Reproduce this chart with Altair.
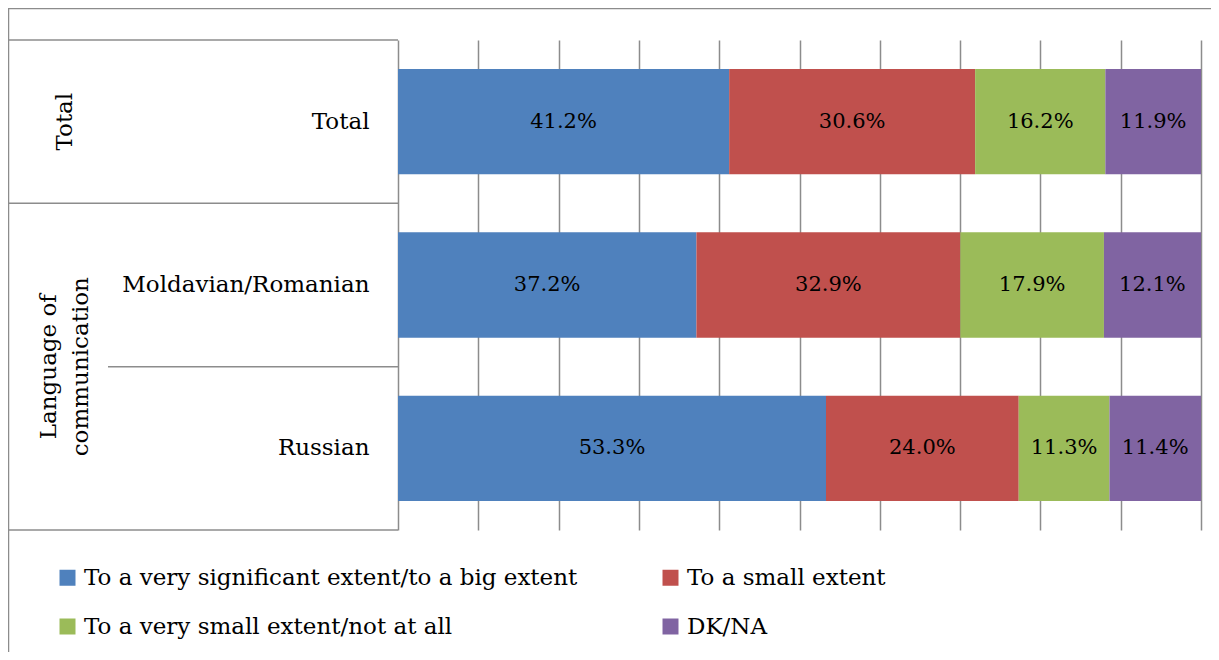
import altair as alt
import pandas as pd

categories = ["Total", "Moldavian/Romanian", "Russian"]
series = [
    "To a very significant extent/to a big extent",
    "To a small extent",
    "To a very small extent/not at all",
    "DK/NA",
]
s_big = [41.2, 37.2, 53.3]
s_small = [30.6, 32.9, 24.0]
s_vsmall = [16.2, 17.9, 11.3]
s_dkna = [11.9, 12.1, 11.4]
colors = ["#4F81BD", "#C0504D", "#9BBB59", "#8064A2"]

groups = ["Total", "Language of\ncommunication"]

rows = []
for si, (name, vals) in enumerate(zip(series, [s_big, s_small, s_vsmall, s_dkna])):
    for c, v in zip(categories, vals):
        rows.append({"category": c, "series": name, "order": si, "value": v})
df = pd.DataFrame(rows)

FONT = "DejaVu Serif"
GRAY = "#8c8c8c"
W, H = 803, 490

yscale = alt.Scale(domain=categories, paddingInner=0, paddingOuter=0)
yaxis = alt.Axis(
    title=None,
    ticks=False,
    domain=False,
    labelFont=FONT,
    labelFontSize=23,
    labelColor="black",
    labelPadding=29,
    labelLimit=400,
)

base = alt.Chart(df).transform_stack(
    stack="value",
    groupby=["category"],
    as_=["v0", "v1"],
    offset="normalize",
    sort=[alt.SortField("order", order="ascending")],
)

bars = base.mark_bar(height=alt.RelativeBandSize(band=0.645)).encode(
    x=alt.X(
        "v0:Q",
        scale=alt.Scale(domain=[0, 1], nice=False),
        axis=alt.Axis(
            values=[i / 10 for i in range(11)],
            grid=True,
            gridColor=GRAY,
            gridWidth=1.5,
            gridOpacity=1,
            labels=False,
            ticks=False,
            domain=False,
            title=None,
        ),
    ),
    x2="v1:Q",
    y=alt.Y("category:N", scale=yscale, sort=categories, axis=yaxis),
    color=alt.Color(
        "series:N",
        scale=alt.Scale(domain=series, range=colors),
        sort=series,
        legend=alt.Legend(
            title=None,
            orient="none",
            legendX=-342,
            legendY=526,
            direction="horizontal",
            columns=2,
            columnPadding=81,
            rowPadding=25,
            symbolType="square",
            symbolSize=256,
            symbolStrokeWidth=0,
            symbolOpacity=1,
            labelFont=FONT,
            labelFontSize=23,
            labelColor="black",
            labelOffset=5,
            labelLimit=600,
            padding=0,
        ),
    ),
)

labels = base.transform_calculate(
    mid="(datum.v0 + datum.v1) / 2",
    txt="format(datum.value, '.1f') + '%'",
).mark_text(font=FONT, fontSize=21, color="black").encode(
    x=alt.X("mid:Q"),
    y=alt.Y("category:N", sort=categories, axis=yaxis),
    text="txt:N",
)

# table lines of the category axis
grp_edges = pd.DataFrame({"category": ["Total", "Moldavian/Romanian"]})
inner_edges = pd.DataFrame({"category": ["Russian"]})
bottom_edge = pd.DataFrame({"category": ["Russian"]})

rule_grp = alt.Chart(grp_edges).mark_rule(color=GRAY, strokeWidth=1.5).encode(
    y=alt.Y("category:N", bandPosition=0, sort=categories, axis=yaxis),
    x=alt.value(-390),
    x2=alt.value(0),
)
rule_inner = alt.Chart(inner_edges).mark_rule(color=GRAY, strokeWidth=1.5).encode(
    y=alt.Y("category:N", bandPosition=0, sort=categories, axis=yaxis),
    x=alt.value(-290),
    x2=alt.value(0),
)
rule_bottom = alt.Chart(bottom_edge).mark_rule(color=GRAY, strokeWidth=1.5).encode(
    y=alt.Y("category:N", bandPosition=1, sort=categories, axis=yaxis),
    x=alt.value(-390),
    x2=alt.value(0),
)

# outer frame
frame_top = alt.Chart(pd.DataFrame({"a": [0]})).mark_rule(color=GRAY, strokeWidth=1.5).encode(
    x=alt.value(-390), x2=alt.value(W + 20), y=alt.value(-31.5)
)
frame_left = alt.Chart(pd.DataFrame({"a": [0]})).mark_rule(color=GRAY, strokeWidth=1.5).encode(
    x=alt.value(-389.5), y=alt.value(-32), y2=alt.value(H + 140)
)

# group labels
g_total = alt.Chart(pd.DataFrame({"category": ["Total"], "g": [groups[0]]})).mark_text(
    font=FONT, fontSize=23, color="black", angle=270, align="center", baseline="middle"
).encode(
    y=alt.Y("category:N", bandPosition=0.5, sort=categories, axis=yaxis),
    x=alt.value(-333),
    text="g:N",
)
g_lang = alt.Chart(pd.DataFrame({"category": ["Russian"], "g": [groups[1]]})).mark_text(
    font=FONT, fontSize=23, color="black", angle=270, align="center", baseline="middle",
    lineBreak="\n", lineHeight=32,
).encode(
    y=alt.Y("category:N", bandPosition=0, sort=categories, axis=yaxis),
    x=alt.value(-349),
    text="g:N",
)

chart = alt.layer(
    bars, labels, rule_grp, rule_inner, rule_bottom, frame_top, frame_left, g_total, g_lang
).properties(
    width=W,
    height=H,
    autosize=alt.AutoSizeParams(type="none"),
    padding={"left": 390, "top": 32, "right": 10, "bottom": 122},
).configure_view(stroke=None)

chart.save("out.html", embed_options={"renderer": "svg", "actions": False})
